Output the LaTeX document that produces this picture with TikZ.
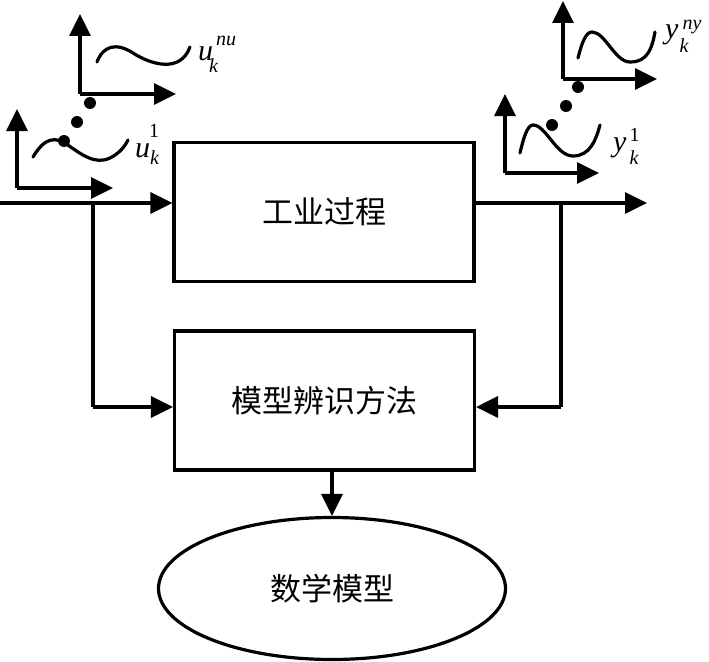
\documentclass[tikz,border=0pt]{standalone}
\usepackage{fontspec}
\newfontfamily\cjk{Noto Sans CJK SC}
\newfontfamily\tms{Liberation Serif}
\usetikzlibrary{arrows.meta,shapes.geometric}
% main letter, sub, sub dx, sub drop, sup, sup dx, sup raise
\newcommand{\sigl}[7]{{\tms\itshape\fontsize{30}{32}\selectfont #1}\rlap{\hspace{#3}\raisebox{-#4}{\tms\itshape\fontsize{20}{22}\selectfont #2}}\hspace{#6}\raisebox{#7}{\tms\fontsize{20}{22}\selectfont #5}}
\tikzset{
  ln/.style={line width=3.2pt},
  arr/.style={ln,-{Triangle[length=22pt,width=21pt]}},
  blockbox/.style={draw,ln,minimum width=300pt,minimum height=139pt,inner sep=0pt,font=\cjk\fontsize{31}{33}\selectfont},
  modelell/.style={draw,ln,ellipse,minimum width=347pt,minimum height=142pt,inner sep=0pt,font=\cjk\fontsize{31}{33}\selectfont},
  sig/.style={ln,line cap=round},
  dotm/.style={fill=black},
  lab/.style={anchor=base west,inner sep=0pt}
}
\begin{document}
\begin{tikzpicture}[x=1pt,y=-1pt]
\useasboundingbox (0,0) rectangle (709,661);
% blocks
\node[blockbox] (proc) at (324,212) {工业过程};
\node[blockbox] (ident) at (324.5,400.5) {模型辨识方法};
\node[modelell] (model) at (332,588.5) {\raisebox{-4pt}{数学模型}};
% coordinates
\coordinate (inl) at (0,203);
\coordinate (inb) at (93,203);
\coordinate (inc) at (93,407);
\coordinate (outend) at (647,203);
\coordinate (outb) at (561,203);
\coordinate (outc) at (561,407);
% main connectors
\draw[arr] (inl) -- (proc.west |- inl);
\draw[ln] (inb) -- (inc);
\draw[arr] (inc) -- (ident.west |- inc);
\draw[arr] (proc.east |- outend) -- (outend);
\draw[ln] (outb) -- (outc);
\draw[arr] (outc) -- (ident.east |- outc);
\draw[arr] (ident.south -| model.north) -- (model.north);
% input signal axes (upper)
\coordinate (ua1) at (80,94);
\coordinate (ua1t) at (80,14);
\coordinate (ua1r) at (176,94);
\draw[arr] (ua1) -- (ua1t);
\draw[arr] (ua1) -- (ua1r);
\draw[sig] (97,62) .. controls (103,46) and (116,42) .. (133,53) .. controls (150,64) and (180,74) .. (190,47);
\node[lab] (lu2) at (198,61) {\sigl{u}{k}{-4pt}{12pt}{\itshape nu}{3pt}{15pt}};
% input signal axes (lower)
\coordinate (ua2) at (17,188);
\coordinate (ua2t) at (17,109);
\coordinate (ua2r) at (113,188);
\draw[arr] (ua2) -- (ua2t);
\draw[arr] (ua2) -- (ua2r);
\draw[sig] (33,157) .. controls (40,145) and (50,134) .. (65,143) .. controls (82,155) and (95,165) .. (110,158) .. controls (120,153) and (125,146) .. (128,140);
\node[lab] (lu1) at (135,157) {\sigl{u}{k}{0pt}{7pt}{1}{-1pt}{20pt}};
% dots
\fill[dotm] (90,103) circle (6);
\fill[dotm] (77,122) circle (6);
\fill[dotm] (64,141) circle (6);
% output signal axes (upper)
\coordinate (ya1) at (563,79);
\coordinate (ya1t) at (563,1);
\coordinate (ya1r) at (657,79);
\draw[arr] (ya1) -- (ya1t);
\draw[arr] (ya1) -- (ya1r);
\draw[sig] (578,58) .. controls (582,42) and (586,32) .. (592,32) .. controls (605,32) and (615,62) .. (630,62) .. controls (648,62) and (652,48) .. (655,32);
\node[lab] (ly2) at (665,38) {\sigl{y}{k}{1pt}{14pt}{\itshape ny}{4pt}{9pt}};
% output signal axes (lower)
\coordinate (ya2) at (505,173);
\coordinate (ya2t) at (505,94);
\coordinate (ya2r) at (599,173);
\draw[arr] (ya2) -- (ya2t);
\draw[arr] (ya2) -- (ya2r);
\draw[sig] (520,153) .. controls (523,140) and (527,125) .. (533,125) .. controls (546,125) and (556,156) .. (573,156) .. controls (590,156) and (596,140) .. (600,125);
\node[lab] (ly1) at (613,151) {\sigl{y}{k}{3pt}{13pt}{1}{3pt}{10pt}};
% dots
\fill[dotm] (578,87) circle (6);
\fill[dotm] (566,106) circle (6);
\fill[dotm] (552,125) circle (6);
\end{tikzpicture}
\end{document}
